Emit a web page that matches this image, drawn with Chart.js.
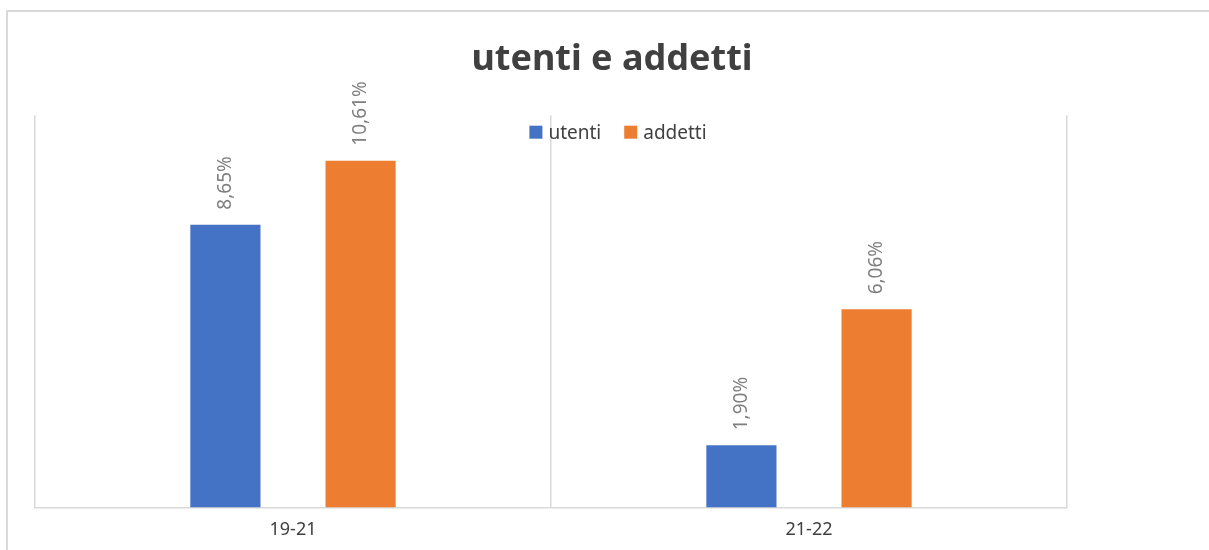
<!DOCTYPE html>
<html>
<head>
<meta charset="utf-8">
<script src="https://cdn.jsdelivr.net/npm/chart.js@4.4.0/dist/chart.umd.min.js"></script>
<style>
  body { margin: 0; background: #fff; }
  #wrap { position: relative; width: 1209px; height: 550px; overflow: hidden; }
  #frame { position: absolute; left: 6px; top: 10px; width: 1300px; height: 700px; border: 2px solid #d9d9d9; }
  #myChart { position: absolute; left: 0; top: 0; }
</style>
</head>
<body>
<div id="wrap">
  <div id="frame"></div>
  <canvas id="myChart" width="1209" height="550"></canvas>
</div>
<script>
// dati del grafico
var categorie = ['19-21', '21-22'];
var utenti = [8.65, 1.90];
var addetti = [10.61, 6.06];
var titolo = 'utenti e addetti';

const FONT = "'Noto Sans', sans-serif";

function percento(v){
  return v.toFixed(2).replace('.', ',') + '%';
}

// etichette dei valori, ruotate sopra le barre
var etichette = {
  id: 'etichette',
  afterDatasetsDraw(chart){
    var ctx = chart.ctx;
    ctx.save();
    ctx.font = '19px ' + FONT;
    ctx.fillStyle = '#7f7f7f';
    ctx.textAlign = 'left';
    ctx.textBaseline = 'middle';
    chart.data.datasets.forEach(function(ds, i){
      var meta = chart.getDatasetMeta(i);
      meta.data.forEach(function(bar, j){
        ctx.save();
        ctx.translate(bar.x, bar.y - 15);
        ctx.rotate(-Math.PI/2);
        ctx.fillText(percento(ds.data[j]), 0, 0);
        ctx.restore();
      });
    });
    ctx.restore();
  }
};

// legenda orizzontale dentro l'area del grafico
var legenda = {
  id: 'legenda',
  afterDraw(chart){
    var ctx = chart.ctx;
    var area = chart.chartArea;
    var tb = chart.titleBlock;
    ctx.save();
    ctx.font = '19px ' + FONT;
    ctx.textBaseline = 'middle';
    ctx.textAlign = 'left';
    var box = 13, gap = 6, spazio = 23;
    var larghezze = chart.data.datasets.map(function(ds){
      return box + gap + ctx.measureText(ds.label).width;
    });
    var totale = larghezze.reduce(function(a, b){ return a + b; }, 0) + spazio*(larghezze.length-1);
    var cx = (tb.left + tb.right)/2 + 6;
    var x = cx - totale/2;
    var y = area.top + 17;
    chart.data.datasets.forEach(function(ds, i){
      ctx.fillStyle = ds.backgroundColor;
      ctx.fillRect(x, y - box/2, box, box);
      ctx.fillStyle = '#404040';
      ctx.fillText(ds.label, x + box + gap, y + 1);
      x += larghezze[i] + spazio;
    });
    ctx.restore();
  }
};

var data = {
  labels: categorie,
  datasets: [
    { label: 'utenti', data: utenti, backgroundColor: '#4472C4', yAxisID: 'y' },
    { label: 'addetti', data: addetti, backgroundColor: '#ED7D31', yAxisID: 'y' }
  ]
};

var assenascosto = {
  grid: { display: false },
  border: { display: false },
  ticks: { display: false }
};

const config = {
  type: 'bar',
  data: data,
  options: {
    responsive: false,
    animation: false,
    devicePixelRatio: 1,
    datasets: {
      bar: { categoryPercentage: 0.524, barPercentage: 0.519 }
    },
    layout: {
      padding: { left: 15, right: 0, top: 0, bottom: -3 }
    },
    plugins: {
      title: {
        display: true,
        text: titolo,
        color: '#404040',
        font: { family: FONT, size: 36, weight: 'bold' },
        padding: { top: 38, bottom: 34 }
      },
      legend: { display: false },
      tooltip: { enabled: false }
    },
    scales: {
      x: {
        grid: { color: '#d9d9d9', lineWidth: 1.5, drawTicks: false, offset: true },
        border: { color: '#d9d9d9', width: 1.5 },
        ticks: { color: '#404040', font: { family: FONT, size: 18 }, padding: 12 }
      },
      y: Object.assign({
        position: 'left',
        min: 0,
        max: 12,
        afterFit: function(s){ s.width = 20; }
      }, assenascosto),
      y2: Object.assign({
        position: 'right',
        min: 0,
        max: 12,
        afterFit: function(s){ s.width = 142; }
      }, assenascosto)
    }
  },
  plugins: [etichette, legenda]
};

var myChart = new Chart(document.getElementById('myChart'), config);
</script>
</body>
</html>
